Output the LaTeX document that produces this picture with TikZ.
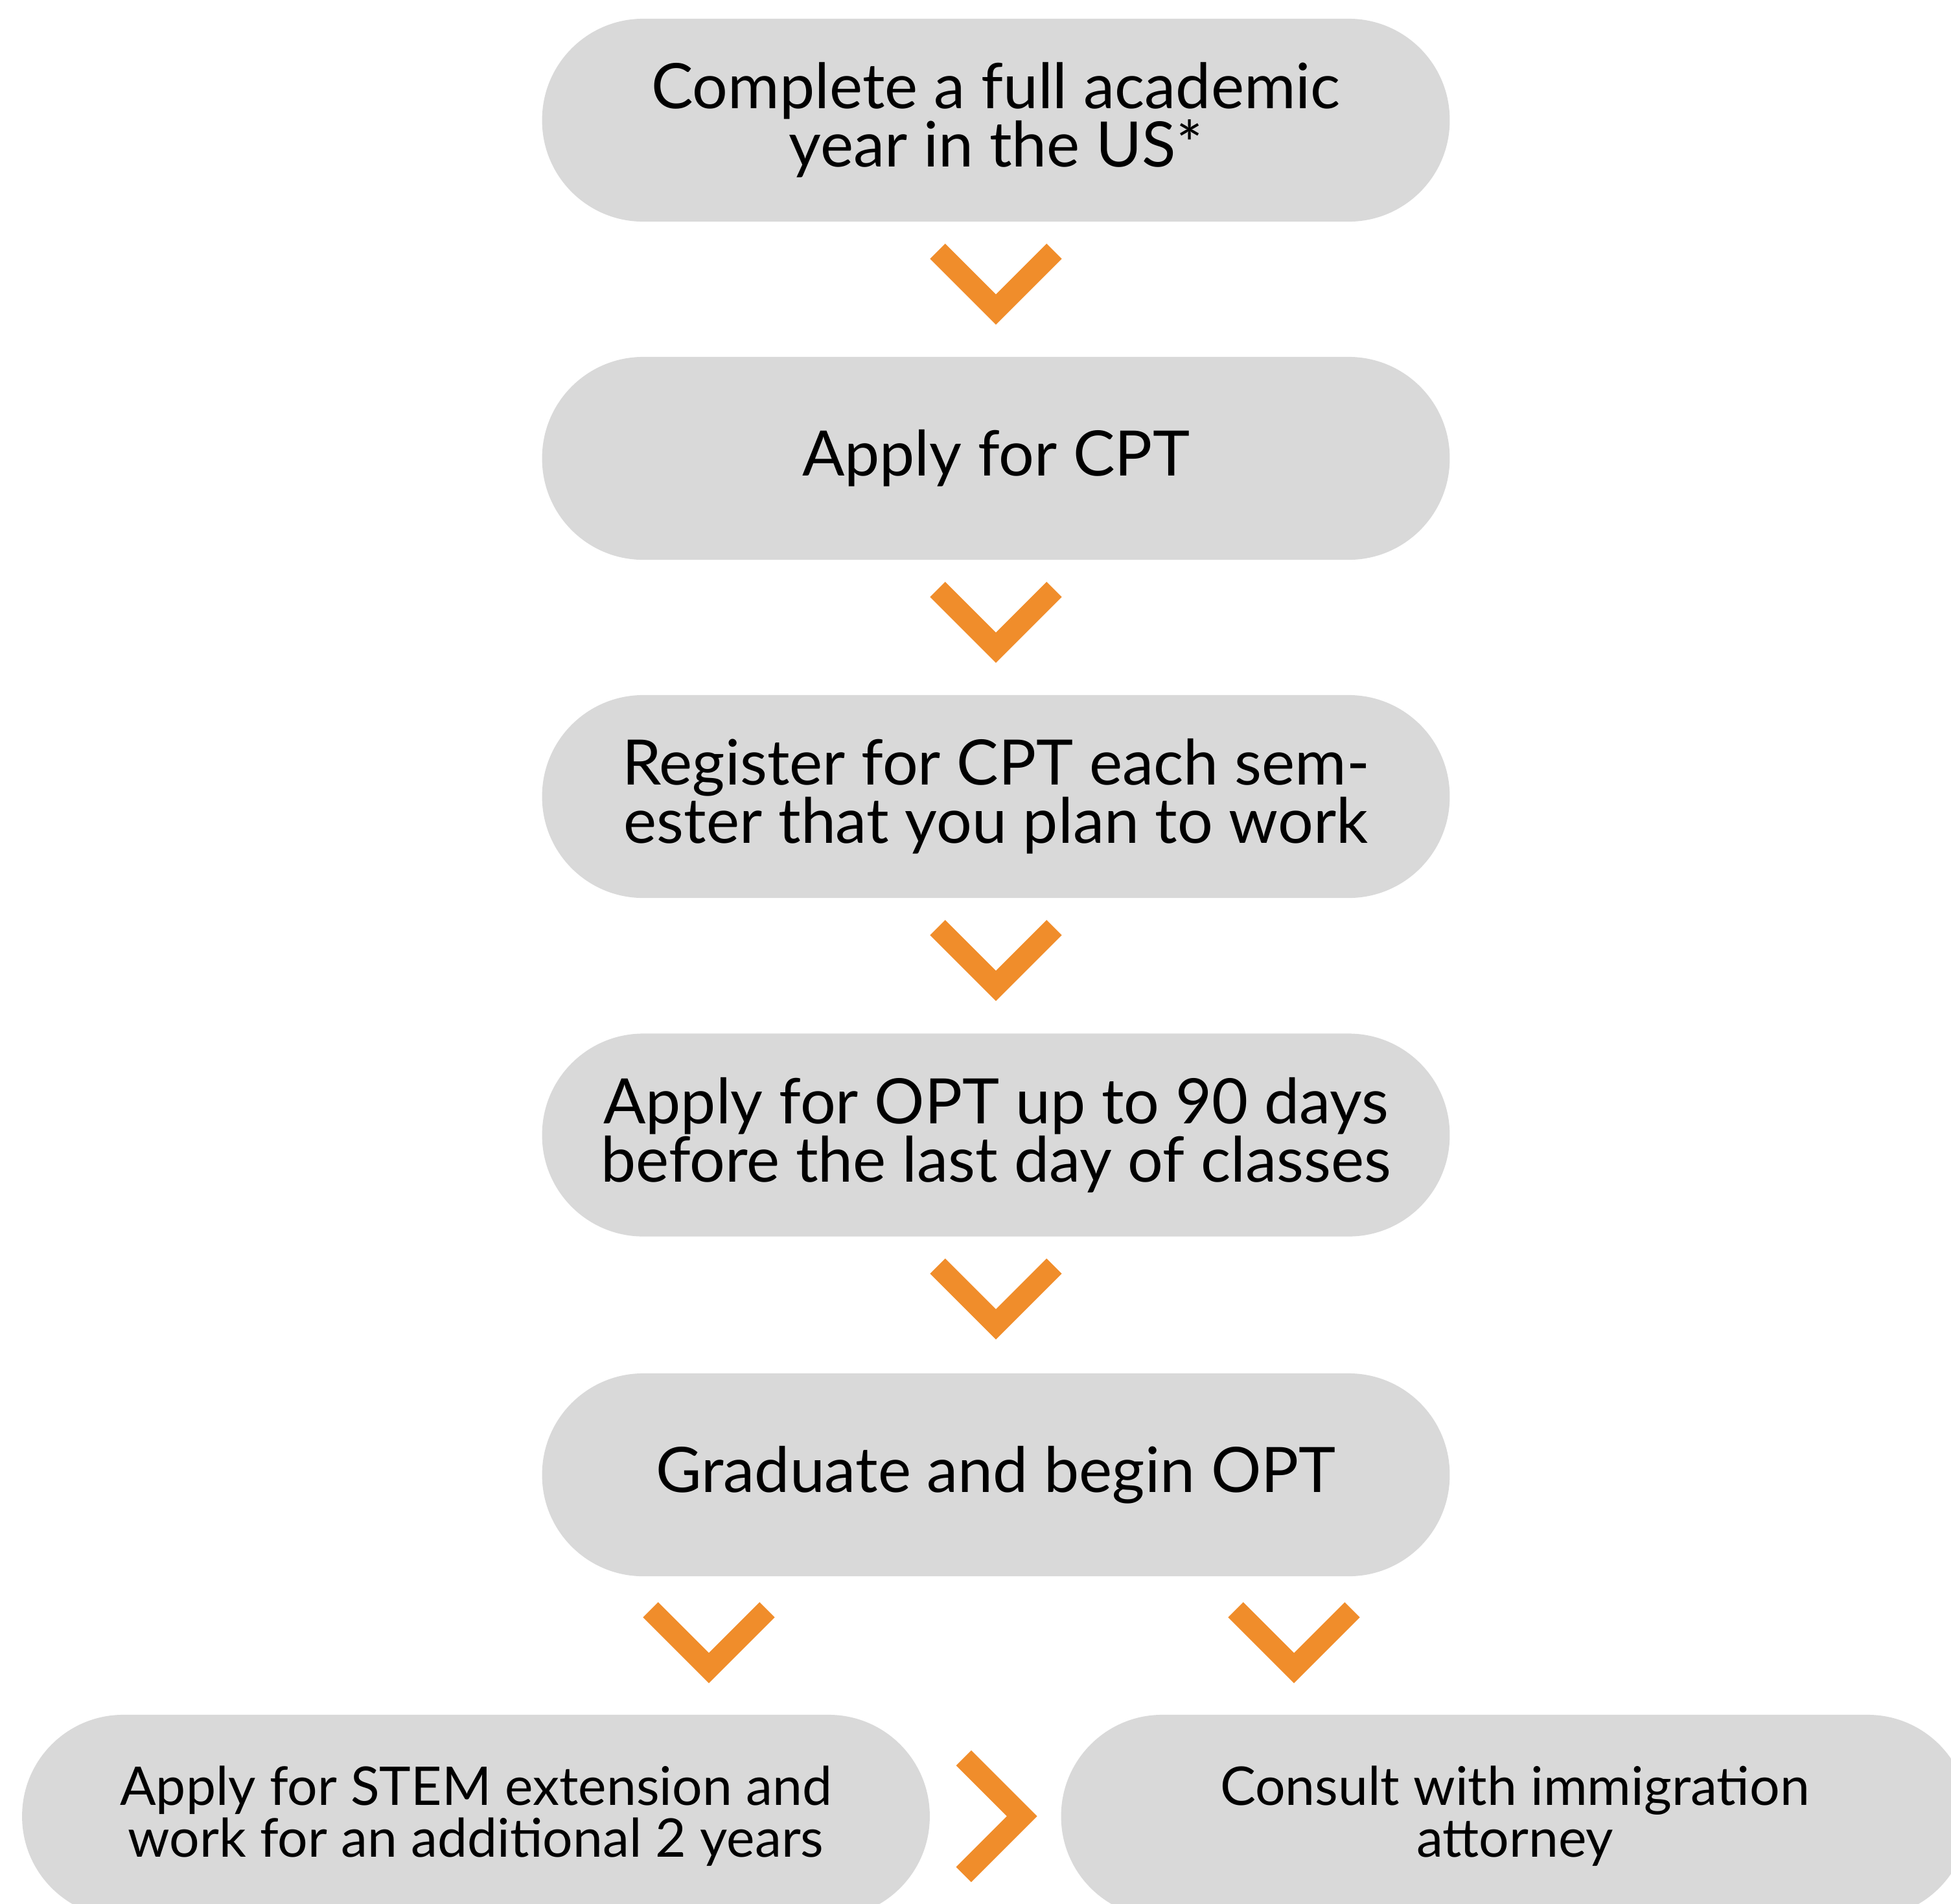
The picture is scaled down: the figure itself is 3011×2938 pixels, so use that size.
\documentclass[tikz,border=0pt]{standalone}
\usepackage{fontspec}
\setmainfont{Lato}
\usetikzlibrary{calc}
\definecolor{stepgray}{RGB}{217,217,217}
\definecolor{chevorange}{RGB}{240,141,43}
\tikzset{
  stepbox/.style={fill=stepgray,draw=none,rounded corners=1.56cm,
    minimum width=14cm,minimum height=3.13cm,inner sep=0pt,align=center,
    font=\fontsize{27.5}{25.6}\selectfont},
  sidebox/.style={stepbox,font=\fontsize{23.4}{22.8}\selectfont},
  chev/.style={draw=chevorange,line width=0.33cm,miter limit=4},
  chevron/.pic={\draw[chev] (-90,-45) -- (0,45) -- (90,-45);}
}

\begin{document}
\begin{tikzpicture}[x=0.01cm,y=-0.01cm]

\clip (0,0) rectangle (3011,2938);
\node[stepbox] (b1) at (1537,185.5) {Complete a full academic\\year in the US*};
\node[stepbox] (b2) at (1537,707.5) {Apply for CPT};
\node[stepbox] (b3) at (1537,1229.5) {Register for CPT each sem-\\ester that you plan to work};
\node[stepbox] (b4) at (1537,1752) {Apply for OPT up to 90 days\\before the last day of classes};
\node[stepbox] (b5) at (1537,2276.5) {Graduate and begin OPT};
\node[sidebox] (s1) at (734.5,2803.5) {Apply for STEM extension and\\work for an additional 2 years};
\node[sidebox] (s2) at (2338,2803.5) {Consult with immigration\\attorney};

\pic at ($(b1.south)+(0,90)$) {chevron};
\pic at ($(b2.south)+(0,90)$) {chevron};
\pic at ($(b3.south)+(0,90)$) {chevron};
\pic at ($(b4.south)+(0,90)$) {chevron};
\pic at ($(b5.south)+(-443,96)$) {chevron};
\pic at ($(b5.south)+(460,96)$) {chevron};
\pic[rotate=90] at ($(s1.east)!0.5!(s2.west)+(-4,0)$) {chevron};
\end{tikzpicture}
\end{document}
